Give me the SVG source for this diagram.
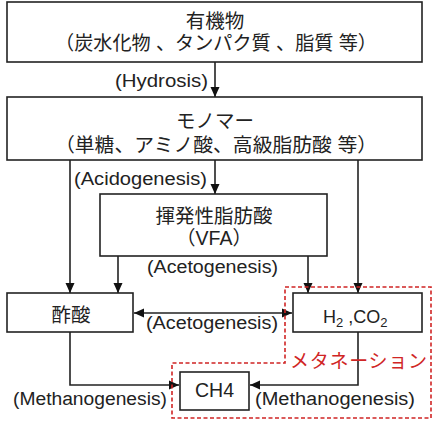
<svg xmlns="http://www.w3.org/2000/svg" width="440" height="423" viewBox="0 0 440 423">
<style>
.box{fill:#fff;stroke:#222;stroke-width:1.6}
.ln{fill:none;stroke:#222;stroke-width:1.6}
.jp{font-family:"Liberation Sans","Noto Sans CJK JP",sans-serif;font-size:19.5px;fill:#222;text-anchor:middle}
.lb{font-family:"Liberation Sans","Noto Sans CJK JP",sans-serif;font-size:18px;fill:#222}
.red{fill:none;stroke:#d02525;stroke-width:1.6;stroke-dasharray:4 2.5}
</style>
<defs>
<marker id="ah" viewBox="0 0 10 10" refX="10" refY="5" markerWidth="10" markerHeight="10" markerUnits="userSpaceOnUse" orient="auto-start-reverse">
<path d="M0,0.5 L10,5 L0,9.5 z" fill="#111"/>
</marker>
</defs>
<rect width="440" height="423" fill="#fff"/>
<g id="connectors">
<line class="ln" x1="215" y1="62" x2="215" y2="97" marker-end="url(#ah)"/>
<line class="ln" x1="215" y1="160" x2="215" y2="194" marker-end="url(#ah)"/>
<line class="ln" x1="70" y1="160" x2="70" y2="293" marker-end="url(#ah)"/>
<line class="ln" x1="358" y1="160" x2="358" y2="293" marker-end="url(#ah)"/>
<line class="ln" x1="118" y1="256" x2="118" y2="293" marker-end="url(#ah)"/>
<line class="ln" x1="308" y1="256" x2="308" y2="293" marker-end="url(#ah)"/>
<line class="ln" x1="134" y1="313" x2="292" y2="313" marker-start="url(#ah)" marker-end="url(#ah)"/>
<polyline class="ln" points="70,332 70,385 179,385" marker-end="url(#ah)"/>
<polyline class="ln" points="358,332 358,385 250,385" marker-end="url(#ah)"/>
<text class="lb" x="115" y="87" textLength="93" lengthAdjust="spacingAndGlyphs">(Hydrosis)</text>
<text class="lb" x="74" y="185" textLength="133" lengthAdjust="spacingAndGlyphs">(Acidogenesis)</text>
<text class="lb" x="147" y="273" textLength="131" lengthAdjust="spacingAndGlyphs">(Acetogenesis)</text>
<text class="lb" x="146" y="329" textLength="132" lengthAdjust="spacingAndGlyphs">(Acetogenesis)</text>
<text class="lb" x="13" y="405" textLength="154" lengthAdjust="spacingAndGlyphs">(Methanogenesis)</text>
<text class="lb" x="255" y="405" textLength="160" lengthAdjust="spacingAndGlyphs">(Methanogenesis)</text>
</g>
<g id="organic">
<rect class="box" x="7" y="2" width="415" height="60"/>
<text class="jp" x="215" y="28" font-size="20">有機物</text>
<text class="jp" x="216" y="50" textLength="322" lengthAdjust="spacingAndGlyphs">（炭水化物 、タンパク質 、脂質 等）</text>
</g>
<g id="monomer">
<rect class="box" x="7" y="97" width="415" height="63"/>
<text class="jp" x="215" y="128">モノマー</text>
<text class="jp" x="216" y="152" textLength="322" lengthAdjust="spacingAndGlyphs">（単糖、アミノ酸、高級脂肪酸 等）</text>
</g>
<g id="vfa">
<rect class="box" x="100" y="194" width="227" height="62"/>
<text class="jp" x="214" y="223">揮発性脂肪酸</text>
<text class="jp" x="214" y="245">（VFA）</text>
</g>
<g id="acetic">
<rect class="box" x="7" y="293" width="126" height="39"/>
<text class="jp" x="71" y="322">酢酸</text>
</g>
<g id="h2co2">
<rect class="box" x="293" y="293" width="129" height="39"/>
<text class="lb" x="323" y="323" font-size="18.5">H<tspan font-size="13" dy="4">2</tspan><tspan dy="-4"> ,CO</tspan><tspan font-size="13" dy="4">2</tspan></text>
</g>
<g id="ch4">
<rect class="box" x="180" y="372" width="69" height="38"/>
<text class="jp" x="214.5" y="397" font-size="19.5">CH4</text>
</g>
<g id="methanation">
<path class="red" d="M285,287 H431 V418 H172 V363 H285 Z"/>
<text x="290" y="368" font-family="'Noto Sans CJK JP',sans-serif" font-size="19" fill="#d02525" textLength="137" lengthAdjust="spacing">メタネーション</text>
</g>
</svg>
